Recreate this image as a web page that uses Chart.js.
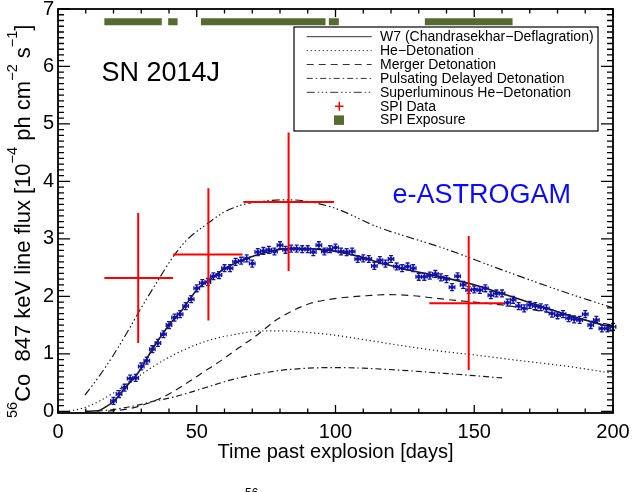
<!DOCTYPE html>
<html>
<head>
<meta charset="utf-8">
<script src="https://cdn.jsdelivr.net/npm/chart.js@4.4.1/dist/chart.umd.min.js"></script>
<style>
  body { margin: 0; background: #fff; }
  #wrap { width: 637px; height: 492px; }
</style>
</head>
<body>
<div id="wrap"><canvas id="chart" width="637" height="492"></canvas></div>
<script>
const FONT = '"Liberation Sans", Arial, Helvetica, sans-serif';

// model light curves (day, flux in 1e-4 ph/cm2/s)
const w7Days = [10, 14.5, 17, 20, 24, 29, 34, 40, 45, 50.5, 55, 59, 65, 71, 77, 83, 90, 100, 108, 115, 125, 136, 150, 160, 172, 184, 192, 200];
const w7Flux = [0, 0.01, 0.07, 0.17, 0.4, 0.68, 1.08, 1.5, 1.78, 2.14, 2.3, 2.45, 2.6, 2.71, 2.79, 2.83, 2.83, 2.78, 2.7, 2.6, 2.47, 2.36, 2.2, 2.05, 1.86, 1.67, 1.56, 1.46];

const heDays = [4, 10, 15, 20, 25, 30, 35, 40, 45, 51, 57, 63, 71, 79, 88, 97, 106, 115, 127, 139, 150, 160, 172, 184, 200];
const heFlux = [0, 0.07, 0.18, 0.32, 0.48, 0.64, 0.8, 0.94, 1.06, 1.18, 1.27, 1.33, 1.39, 1.4, 1.38, 1.34, 1.28, 1.21, 1.12, 1.04, 0.98, 0.92, 0.85, 0.78, 0.66];

const mergerDays = [18, 25, 32.5, 40, 47, 53, 59, 65, 71, 79, 85, 91, 97, 103, 111, 119, 128, 139, 150, 160, 172, 184, 192, 200];
const mergerFlux = [0, 0.04, 0.14, 0.3, 0.51, 0.7, 0.89, 1.1, 1.3, 1.6, 1.76, 1.88, 1.94, 1.98, 2.01, 2.03, 2.01, 1.95, 1.9, 1.85, 1.76, 1.65, 1.57, 1.5];

const pddDays = [14, 20, 25, 30, 35, 41, 47, 53, 59, 65, 71, 80, 90, 100, 110, 118, 128, 139, 150, 160];
const pddFlux = [0, 0.03, 0.07, 0.12, 0.18, 0.24, 0.32, 0.41, 0.5, 0.58, 0.64, 0.71, 0.75, 0.76, 0.75, 0.73, 0.7, 0.66, 0.62, 0.58];

const slDays = [9.7, 15, 20, 25, 30, 36.7, 41.5, 46.4, 54, 60, 67, 75, 83, 90, 100, 115, 127, 139.4, 160, 184, 200];
const slFlux = [0.28, 0.62, 0.98, 1.38, 1.8, 2.33, 2.69, 2.98, 3.27, 3.47, 3.6, 3.66, 3.68, 3.65, 3.53, 3.21, 3.02, 2.83, 2.46, 2.05, 1.8];

// SPI measurements with error ranges
const spiDays = [28.9, 54.2, 83.1, 148.0];
const spiFlux = [2.32, 2.73, 3.64, 1.88];
const spiDayLo = [16.7, 41.5, 66.8, 133.8];
const spiDayHi = [41.5, 66.5, 99.5, 160.7];
const spiFluxLo = [1.19, 1.58, 2.44, 0.72];
const spiFluxHi = [3.45, 3.88, 4.85, 3.05];

// SPI exposure intervals
const exposureStart = [16.7, 39.7, 51.5, 97.6, 132.2];
const exposureEnd = [37.4, 43.1, 96.4, 101.2, 163.8];
const exposureLevel = 6.78;

// simulated e-ASTROGAM points
const astroDays = [20, 22, 24, 26, 28, 30, 32, 34, 36, 38, 40, 42, 44, 46, 48, 50, 52, 54, 56, 58, 60, 62, 64, 66, 68, 70,
  72, 74, 76, 78, 80, 82, 84, 86, 88, 90, 92, 94, 96, 98, 100, 102, 104, 106, 108, 110, 112, 114, 116, 118, 120, 122, 124, 126, 128, 130, 132, 134,
  136, 138, 140, 142, 144, 146, 148, 150, 152, 154, 156, 158, 160, 162, 164, 166, 168, 170, 172, 174, 176, 178, 180, 182, 184, 186, 188, 190, 192, 194, 196, 198, 200];
const astroFlux = [0.18, 0.30, 0.41, 0.57, 0.58, 0.78, 0.88, 1.08, 1.19, 1.34, 1.50, 1.63, 1.69, 1.83, 1.95, 2.14, 2.23, 2.25, 2.35, 2.37, 2.49, 2.49, 2.60, 2.62, 2.66, 2.57,
  2.77, 2.79, 2.81, 2.78, 2.89, 2.81, 2.83, 2.83, 2.82, 2.82, 2.77, 2.89, 2.78, 2.82, 2.85, 2.78, 2.77, 2.78, 2.65, 2.66, 2.65, 2.53, 2.63, 2.57, 2.65, 2.52, 2.49, 2.52, 2.49, 2.34, 2.34, 2.36,
  2.39, 2.33, 2.30, 2.16, 2.35, 2.20, 2.11, 2.12, 2.11, 2.14, 2.02, 2.05, 2.05, 1.89, 1.94, 1.83, 1.79, 1.85, 1.83, 1.81, 1.79, 1.70, 1.67, 1.69, 1.62, 1.60, 1.59, 1.69, 1.50, 1.59, 1.44, 1.44, 1.47];
const astroDayErr = 1.0;
const astroFluxErr = 0.06;

// axis ticks
const xTickLabels = [0, 50, 100, 150, 200];
const yTickLabels = [0, 1, 2, 3, 4, 5, 6, 7];
const xMinorStep = 10;
const yMinorStep = 0.1;

function toPoints(xs, ys) {
  return xs.map((x, i) => ({ x: x, y: ys[i] }));
}

let exposurePoints = [];
for (let i = 0; i < exposureStart.length; i++) {
  exposurePoints.push({ x: exposureStart[i], y: exposureLevel });
  exposurePoints.push({ x: exposureEnd[i], y: exposureLevel });
  exposurePoints.push({ x: exposureEnd[i], y: null });
}

const lineColor = '#1a1a1a';
function modelLine(label, xs, ys, dash, width) {
  return {
    label: label,
    data: toPoints(xs, ys),
    showLine: true,
    borderColor: lineColor,
    borderWidth: width,
    borderDash: dash,
    pointRadius: 0,
    cubicInterpolationMode: 'monotone',
    fill: false
  };
}

const datasets = [
  modelLine('W7 (Chandrasekhar\u2212Deflagration)', w7Days, w7Flux, [], 1.6),
  modelLine('He\u2212Detonation', heDays, heFlux, [1.2, 2.8], 1.2),
  modelLine('Merger Detonation', mergerDays, mergerFlux, [7, 5], 1.2),
  modelLine('Pulsating Delayed Detonation', pddDays, pddFlux, [6, 3, 1.5, 3], 1.2),
  modelLine('Superluminous He\u2212Detonation', slDays, slFlux, [8, 3, 1.5, 2.5, 1.5, 2.5, 1.5, 3], 1.2),
  {
    label: 'SPI Data',
    data: toPoints(spiDays, spiFlux),
    pointRadius: 0,
    borderColor: '#ff0000',
    backgroundColor: '#ff0000'
  },
  {
    label: 'SPI Exposure',
    data: exposurePoints,
    showLine: true,
    spanGaps: false,
    borderColor: '#566b30',
    backgroundColor: '#566b30',
    borderWidth: 7,
    borderCapStyle: 'butt',
    pointRadius: 0,
    tension: 0
  },
  {
    label: 'e-ASTROGAM',
    data: toPoints(astroDays, astroFlux),
    pointRadius: 2,
    pointBorderWidth: 0,
    backgroundColor: '#1212b0',
    borderColor: '#1212b0'
  }
];

const framePlugin = {
  id: 'framePlugin',
  afterDatasetsDraw(chart) {
    const ctx = chart.ctx;
    const xs = chart.scales.x, ys = chart.scales.y;
    ctx.save();
    // e-ASTROGAM error bars
    ctx.strokeStyle = '#1212b0';
    ctx.lineWidth = 1.3;
    for (let i = 0; i < astroDays.length; i++) {
      const px = xs.getPixelForValue(astroDays[i]);
      const py = ys.getPixelForValue(astroFlux[i]);
      const x0 = xs.getPixelForValue(astroDays[i] - astroDayErr);
      const x1 = xs.getPixelForValue(astroDays[i] + astroDayErr);
      const y0 = ys.getPixelForValue(astroFlux[i] - astroFluxErr);
      const y1 = ys.getPixelForValue(astroFlux[i] + astroFluxErr);
      ctx.beginPath();
      ctx.moveTo(x0, py); ctx.lineTo(x1, py);
      ctx.moveTo(x0, py - 2); ctx.lineTo(x0, py + 2);
      ctx.moveTo(x1, py - 2); ctx.lineTo(x1, py + 2);
      ctx.moveTo(px, y0); ctx.lineTo(px, y1);
      ctx.moveTo(px - 2, y0); ctx.lineTo(px + 2, y0);
      ctx.moveTo(px - 2, y1); ctx.lineTo(px + 2, y1);
      ctx.stroke();
    }
    // SPI crosses
    ctx.strokeStyle = '#ff0000';
    ctx.lineWidth = 2;
    for (let i = 0; i < spiDays.length; i++) {
      const px = xs.getPixelForValue(spiDays[i]);
      const py = ys.getPixelForValue(spiFlux[i]);
      ctx.beginPath();
      ctx.moveTo(xs.getPixelForValue(spiDayLo[i]), py);
      ctx.lineTo(xs.getPixelForValue(spiDayHi[i]), py);
      ctx.moveTo(px, ys.getPixelForValue(spiFluxLo[i]));
      ctx.lineTo(px, ys.getPixelForValue(spiFluxHi[i]));
      ctx.stroke();
    }
    ctx.restore();
  },
  afterDraw(chart) {
    const ctx = chart.ctx;
    const a = chart.chartArea;
    const xs = chart.scales.x, ys = chart.scales.y;
    ctx.save();
    // frame
    ctx.strokeStyle = '#000';
    ctx.lineWidth = 1.8;
    ctx.strokeRect(a.left, a.top, a.right - a.left, a.bottom - a.top);
    // inward ticks
    ctx.lineWidth = 1.3;
    ctx.beginPath();
    for (let v = 0; v <= 200 + 1e-6; v += xMinorStep) {
      const px = xs.getPixelForValue(v);
      const len = xTickLabels.includes(Math.round(v)) ? 8 : 4.5;
      ctx.moveTo(px, a.bottom); ctx.lineTo(px, a.bottom - len);
      ctx.moveTo(px, a.top); ctx.lineTo(px, a.top + len);
    }
    for (let k = 0; k <= 70; k++) {
      const v = k * yMinorStep;
      const py = ys.getPixelForValue(v);
      const len = (k % 10 === 0) ? 12 : 6;
      ctx.moveTo(a.left, py); ctx.lineTo(a.left + len, py);
      ctx.moveTo(a.right, py); ctx.lineTo(a.right - len, py);
    }
    ctx.stroke();

    // text labels in the plot
    ctx.fillStyle = '#000';
    ctx.font = '27px ' + FONT;
    ctx.textBaseline = 'alphabetic';
    ctx.textAlign = 'left';
    ctx.fillText('SN 2014J', 101.5, 80.5);
    ctx.fillStyle = '#0a0aff';
    ctx.fillText('e-ASTROGAM', 392.5, 203);

    // legend
    const lx0 = 294, ly0 = 27, lx1 = 598, ly1 = 131;
    ctx.fillStyle = '#fff';
    ctx.fillRect(lx0, ly0, lx1 - lx0, ly1 - ly0);
    ctx.strokeStyle = '#000';
    ctx.lineWidth = 1.2;
    ctx.strokeRect(lx0, ly0, lx1 - lx0, ly1 - ly0);
    ctx.font = '14px ' + FONT;
    ctx.textBaseline = 'middle';
    for (let i = 0; i < 7; i++) {
      const ds = chart.data.datasets[i];
      const ry = 36.7 + i * 13.9;
      if (i < 5) {
        ctx.save();
        ctx.strokeStyle = '#333';
        ctx.lineWidth = 1;
        ctx.setLineDash(ds.borderDash);
        ctx.beginPath();
        ctx.moveTo(306.7, ry); ctx.lineTo(371.7, ry);
        ctx.stroke();
        ctx.restore();
      } else if (i === 5) {
        ctx.save();
        ctx.strokeStyle = '#ff0000';
        ctx.lineWidth = 1.5;
        ctx.beginPath();
        ctx.moveTo(335, ry); ctx.lineTo(343.5, ry);
        ctx.moveTo(339.3, ry - 4.5); ctx.lineTo(339.3, ry + 4.5);
        ctx.stroke();
        ctx.restore();
      } else {
        ctx.fillStyle = ds.backgroundColor;
        ctx.fillRect(334, ry - 4.7, 10, 9.5);
      }
      ctx.fillStyle = '#000';
      ctx.fillText(ds.label, 380, ry + 0.5);
    }

    // y axis title with superscripts
    const fs = 22, sfs = 14.5;
    const parts = [['56', 1], ['Co  847 keV line flux [10', 0], ['\u22124', 1], [' ph cm', 0], ['\u22122', 1], [' s', 0], ['\u22121', 1], [']', 0]];
    ctx.save();
    ctx.translate(29.5, 418);
    ctx.rotate(-Math.PI / 2);
    ctx.textBaseline = 'alphabetic';
    ctx.fillStyle = '#000';
    let cx = 0;
    for (const [t, sup] of parts) {
      ctx.font = (sup ? sfs : fs) + 'px ' + FONT;
      ctx.fillText(t, cx, sup ? -fs * 0.58 : 0);
      cx += ctx.measureText(t).width;
    }
    ctx.restore();

    // caption fragment cut off at the bottom edge
    ctx.font = '12px ' + FONT;
    ctx.fillStyle = '#000';
    ctx.textBaseline = 'alphabetic';
    ctx.fillText('56', 245, 497);
    ctx.restore();
  }
};

new Chart(document.getElementById('chart'), {
  type: 'scatter',
  data: { datasets: datasets },
  options: {
    responsive: false,
    animation: false,
    layout: { padding: { top: 9, right: 24, left: 0, bottom: 0 } },
    plugins: { legend: { display: false }, tooltip: { enabled: false } },
    scales: {
      x: {
        type: 'linear',
        min: 0,
        max: 200,
        grid: { display: false, drawTicks: false },
        border: { display: false },
        afterBuildTicks: (s) => { s.ticks = xTickLabels.map(v => ({ value: v })); },
        afterFit: (s) => { s.height = 79; s.paddingLeft = 0; s.paddingRight = 0; },
        ticks: { font: { size: 20, family: FONT }, color: '#000', padding: 7, maxRotation: 0, autoSkip: false },
        title: { display: true, text: 'Time past explosion [days]', font: { size: 20, family: FONT }, color: '#000', padding: { top: 0, bottom: 28 } }
      },
      y: {
        type: 'linear',
        min: -0.03,
        max: 7,
        grid: { display: false, drawTicks: false },
        border: { display: false },
        afterBuildTicks: (s) => { s.ticks = yTickLabels.map(v => ({ value: v })); },
        afterFit: (s) => { s.width = 58; s.paddingTop = 0; s.paddingBottom = 0; },
        ticks: { font: { size: 20, family: FONT }, color: '#000', padding: 4, autoSkip: false }
      }
    }
  },
  plugins: [framePlugin]
});
</script>
</body>
</html>
